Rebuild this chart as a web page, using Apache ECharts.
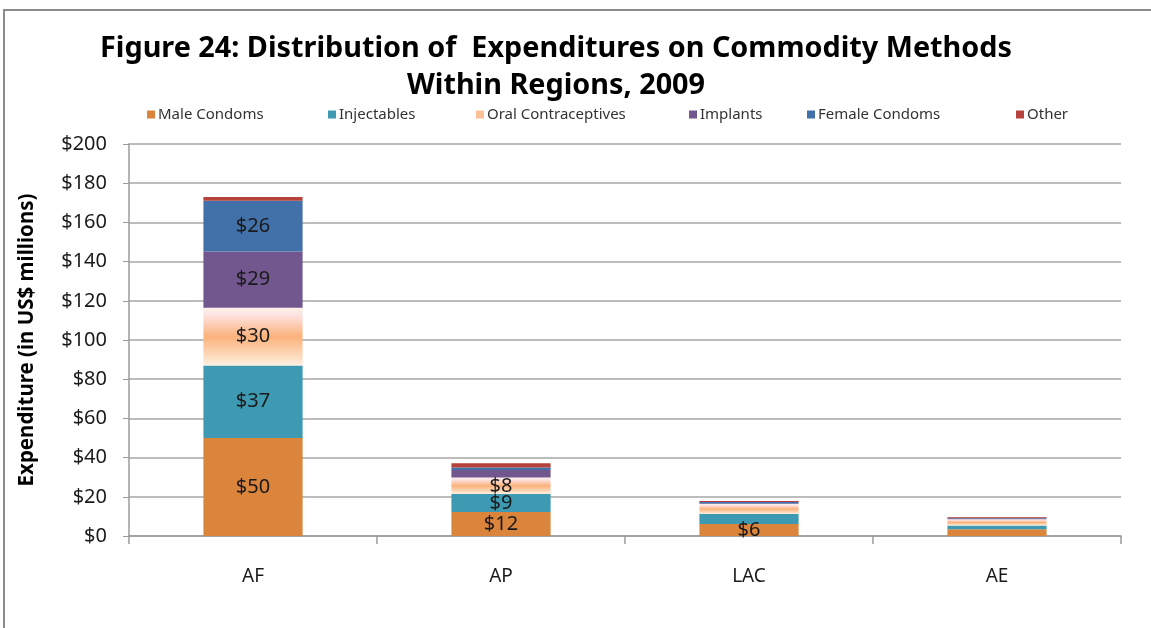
<!DOCTYPE html>
<html>
<head>
<meta charset="utf-8">
<script src="https://cdn.jsdelivr.net/npm/echarts@6/dist/echarts.min.js"></script>
<style>
  html, body { margin: 0; padding: 0; background: #fff; }
  #chart { width: 1151px; height: 628px; }
</style>
</head>
<body>
<div id="chart"></div>
<script>
// regions
var regions = ["AF", "AP", "LAC", "AE"];
// expenditure by method, US$ millions
var maleCondoms = [50, 12.2, 6.1, 3.5];
var injectables = [37, 9.2, 5.1, 1.8];
var oralContraceptives = [29.5, 8.4, 5.1, 3.2];
var implants = [28.7, 3.9, 0.3, 0.5];
var femaleCondoms = [25.8, 1.2, 0.8, 0.3];
var other = [1.9, 2.2, 0.5, 0.4];
var yTicks = { min: 0, max: 200, step: 20 };

var font = "'Noto Sans', sans-serif";

var chart = echarts.init(document.getElementById("chart"));

// oral contraceptives has that shaded excel look
var oralFill = new echarts.graphic.LinearGradient(0, 0, 0, 1, [
  { offset: 0, color: "#fdf1e6" },
  { offset: 0.12, color: "#fde3e2" },
  { offset: 0.5, color: "#fbb27c" },
  { offset: 0.88, color: "#fde0c6" },
  { offset: 1, color: "#fdf0e2" }
]);

function lbl(p) {
  return p.value >= 6 ? "$" + Math.round(p.value) : "";
}

function makeSeries(name, data, color) {
  return {
    name: name,
    type: "bar",
    stack: "total",
    data: data,
    barCategoryGap: "60%",
    itemStyle: { color: color },
    label: {
      show: true,
      position: "inside",
      formatter: lbl,
      color: "#1a1a1a",
      fontSize: 20,
      fontFamily: font
    }
  };
}

var seriesList = [
  makeSeries("Male Condoms", maleCondoms, "#da843c"),
  makeSeries("Injectables", injectables, "#3d9ab2"),
  makeSeries("Oral Contraceptives", oralContraceptives, oralFill),
  makeSeries("Implants", implants, "#72578f"),
  makeSeries("Female Condoms", femaleCondoms, "#4270a8"),
  makeSeries("Other", other, "#b5423d")
];

var legendColors = ["#da843c", "#3d9ab2", "#fbc095", "#72578f", "#4270a8", "#b5423d"];
var legendLeft = [142, 323, 471, 684, 802, 1011];
var legends = seriesList.map(function (s, i) {
  return {
    data: [{ name: s.name, itemStyle: { color: legendColors[i] } }],
    left: legendLeft[i],
    top: 102,
    itemWidth: 8,
    itemHeight: 8,
    icon: "rect",
    textStyle: { fontSize: 15, color: "#333", fontFamily: font, padding: [0, 0, 0, -2] }
  };
});

chart.setOption({
  animation: false,
  title: {
    text: "Figure 24: Distribution of  Expenditures on Commodity Methods\nWithin Regions, 2009",
    left: 551,
    textAlign: "center",
    top: 25,
    textStyle: {
      fontSize: 28.8,
      fontWeight: "bold",
      color: "#000",
      fontFamily: font,
      lineHeight: 37
    }
  },
  legend: legends,
  graphic: [{
    type: "rect",
    shape: { x: 4, y: 10, width: 1200, height: 700 },
    style: { fill: "none", stroke: "#8c8c8c", lineWidth: 2 },
    silent: true
  }],
  grid: { left: 129, right: 30, top: 144, bottom: 92 },
  xAxis: {
    type: "category",
    data: regions,
    axisLine: { lineStyle: { color: "#9a9a9a", width: 1.5 } },
    axisTick: { show: true, length: 8, lineStyle: { color: "#9a9a9a", width: 1.5 } },
    axisLabel: { color: "#1a1a1a", fontSize: 19, fontFamily: font, margin: 31 }
  },
  yAxis: {
    type: "value",
    min: yTicks.min,
    max: yTicks.max,
    interval: yTicks.step,
    name: "Expenditure (in US$ millions)",
    nameLocation: "middle",
    nameGap: 91,
    nameTextStyle: { fontSize: 20.5, fontWeight: "bold", color: "#000", fontFamily: font },
    axisLine: { show: true, lineStyle: { color: "#9a9a9a", width: 1.5 } },
    axisTick: { show: true, length: 6, lineStyle: { color: "#9a9a9a" } },
    splitLine: { lineStyle: { color: "#a6a6a6", width: 1.5 } },
    axisLabel: {
      color: "#1a1a1a",
      fontSize: 20,
      fontFamily: font,
      margin: 22,
      formatter: function (v) { return "$" + v; }
    }
  },
  series: seriesList
});
</script>
</body>
</html>
